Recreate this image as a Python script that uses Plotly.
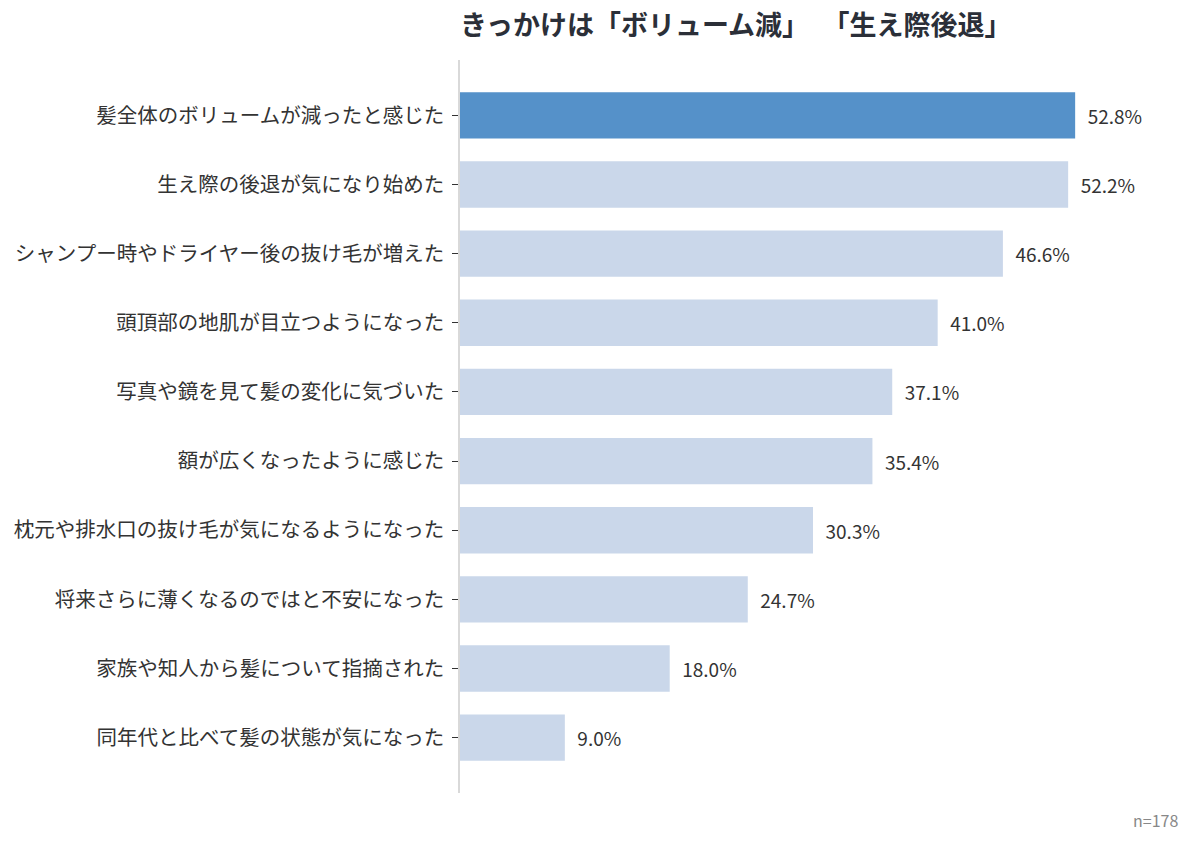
import plotly.graph_objects as go

categories = [
    "髪全体のボリュームが減ったと感じた",
    "生え際の後退が気になり始めた",
    "シャンプー時やドライヤー後の抜け毛が増えた",
    "頭頂部の地肌が目立つようになった",
    "写真や鏡を見て髪の変化に気づいた",
    "額が広くなったように感じた",
    "枕元や排水口の抜け毛が気になるようになった",
    "将来さらに薄くなるのではと不安になった",
    "家族や知人から髪について指摘された",
    "同年代と比べて髪の状態が気になった",
]
values = [52.8, 52.2, 46.6, 41.0, 37.1, 35.4, 30.3, 24.7, 18.0, 9.0]
labels = ["\u2002" + f"{v:.1f}%" for v in values]
colors = ["#5591C9"] + ["#CAD7EA"] * (len(values) - 1)

FONT = "Noto Sans CJK JP"

fig = go.Figure(go.Bar(
    x=values, y=categories, orientation="h",
    marker=dict(color=colors, line=dict(width=0)),
    text=labels, textposition="outside",
    textfont=dict(size=19, color="#333333", family=FONT),
    cliponaxis=False, width=0.67,
))

fig.update_layout(
    width=1200, height=846,
    margin=dict(l=460, r=20, t=60, b=53),
    paper_bgcolor="white", plot_bgcolor="white",
    font=dict(family=FONT, color="#333333"),
    title=dict(text="<b>きっかけは「ボリューム減」\u2002「生え際後退」</b>",
               x=0, xref="paper", xanchor="left", y=0.97, yanchor="middle",
               font=dict(size=27, color="#2b2f38", family=FONT)),
    showlegend=False,
    bargap=0.33,
)
fig.update_xaxes(range=[0, 61.8], visible=False, showgrid=False, zeroline=False)
fig.update_yaxes(range=[9.8, -0.8], type="category",
                 showline=True, linecolor="#d9d9d9", linewidth=1.5,
                 ticks="outside", ticklen=6, tickcolor="#333333",
                 ticklabelstandoff=4,
                 tickfont=dict(size=20.5, color="#333333", family=FONT),
                 showgrid=False, zeroline=False)
fig.add_annotation(text="n=178", x=1, y=-0.018, xref="paper", yref="paper",
                   xanchor="right", yanchor="top", showarrow=False,
                   font=dict(size=16, color="#888888", family=FONT))

fig.write_html("out.html")
